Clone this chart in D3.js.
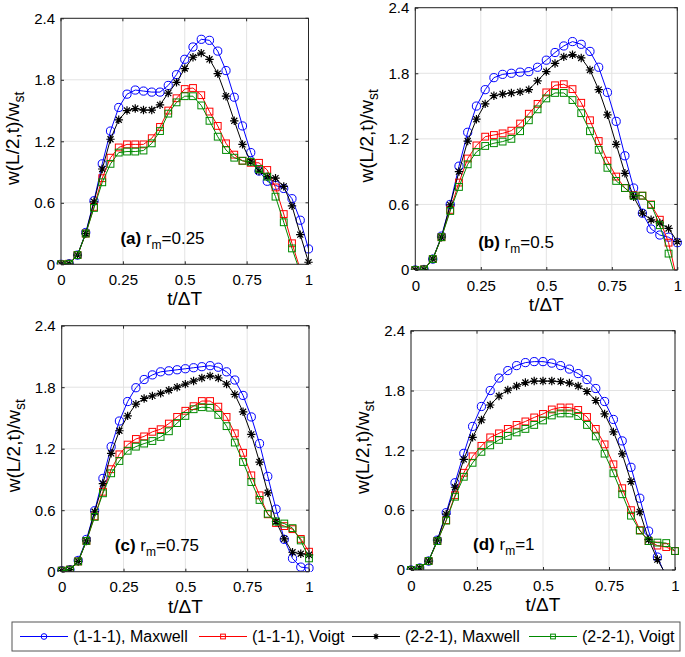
<!DOCTYPE html>
<html><head><meta charset="utf-8">
<script src="https://cdnjs.cloudflare.com/ajax/libs/d3/7.8.5/d3.min.js"></script>
<style>body{margin:0;background:#fff}svg{display:block}text{font-family:"Liberation Sans",Arial,Helvetica,sans-serif}</style>
</head><body><svg id="chart" width="685" height="657"></svg>
<script>
// ---- data ----
const tValues = [0,0.0333,0.0667,0.1,0.1333,0.1667,0.2,0.2333,0.2667,0.3,0.3333,0.3667,0.4,0.4333,0.4667,0.5,0.5333,0.5667,0.6,0.6333,0.6667,0.7,0.7333,0.7667,0.8,0.8333,0.8667,0.9,0.9333,0.9667,1];
const xTicks = [0,0.25,0.5,0.75,1];
const xTickLabels = ["0","0.25","0.5","0.75","1"];
const yTicks = [0,0.6,1.2,1.8,2.4];
const yTickLabels = ["0","0.6","1.2","1.8","2.4"];
const seriesNames = ["(1-1-1), Maxwell","(1-1-1), Voigt","(2-2-1), Maxwell","(2-2-1), Voigt"];
const panelTags = ["(a)","(b)","(c)","(d)"];
const rmValues = ["0.25","0.5","0.75","1"];

// panel (a) r_m = 0.25
const a_M111 = [0,0.005,0.09,0.31,0.62,0.98,1.30,1.53,1.66,1.70,1.69,1.68,1.68,1.745,1.85,2.0,2.12,2.195,2.185,2.08,1.89,1.63,1.35,1.09,0.91,0.81,0.77,0.74,0.64,0.43,0.15];
const a_V111 = [0,0.005,0.09,0.30,0.56,0.84,1.04,1.14,1.17,1.17,1.17,1.23,1.34,1.50,1.62,1.71,1.72,1.65,1.49,1.35,1.18,1.07,1.01,0.99,0.99,0.92,0.75,0.49,0.205,-0.05,-0.3];
const a_M221 = [0,0.005,0.09,0.30,0.61,0.93,1.22,1.41,1.50,1.52,1.505,1.505,1.555,1.67,1.775,1.91,2.02,2.06,2.0,1.86,1.64,1.40,1.17,1.0,0.91,0.855,0.84,0.76,0.57,0.29,0.02];
const a_V221 = [0,0.005,0.09,0.30,0.55,0.80,0.98,1.09,1.10,1.10,1.11,1.18,1.30,1.47,1.58,1.64,1.64,1.55,1.40,1.245,1.115,1.04,1.01,1.0,0.93,0.855,0.66,0.41,0.155,-0.08,-0.35];
// panel (b) r_m = 0.5
const b_M111 = [0,0.005,0.1,0.31,0.60,0.95,1.26,1.50,1.65,1.76,1.79,1.80,1.81,1.815,1.855,1.92,1.99,2.05,2.09,2.065,2.0,1.855,1.625,1.36,1.045,0.75,0.52,0.375,0.32,0.30,0.25];
const b_V111 = [0,0.005,0.1,0.30,0.55,0.80,1.02,1.14,1.22,1.235,1.25,1.275,1.34,1.43,1.52,1.625,1.69,1.70,1.655,1.53,1.37,1.18,1.0,0.855,0.75,0.685,0.68,0.60,0.46,0.25,-0.1];
const b_M221 = [0,0.005,0.1,0.30,0.595,0.90,1.18,1.38,1.52,1.595,1.61,1.62,1.63,1.65,1.73,1.815,1.89,1.95,1.97,1.94,1.83,1.65,1.42,1.15,0.885,0.67,0.52,0.46,0.43,0.38,0.26];
const b_V221 = [0,0.005,0.1,0.30,0.54,0.76,0.967,1.08,1.135,1.16,1.175,1.20,1.27,1.37,1.47,1.57,1.62,1.62,1.555,1.435,1.27,1.10,0.935,0.815,0.75,0.68,0.68,0.595,0.41,0.15,-0.13];
// panel (c) r_m = 0.75
const c_M111 = [0.01,0.02,0.11,0.315,0.595,0.91,1.22,1.47,1.66,1.795,1.875,1.92,1.95,1.96,1.97,1.98,1.99,2.0,2.01,1.995,1.95,1.87,1.72,1.51,1.25,0.93,0.61,0.315,0.13,0.045,0.035];
const c_V111 = [0.01,0.02,0.1,0.30,0.54,0.78,1.0,1.145,1.24,1.295,1.32,1.365,1.39,1.445,1.51,1.57,1.615,1.665,1.665,1.61,1.51,1.35,1.16,0.94,0.745,0.56,0.475,0.445,0.415,0.32,0.195];
const c_M221 = [0.01,0.02,0.1,0.30,0.585,0.86,1.155,1.375,1.52,1.635,1.69,1.715,1.74,1.77,1.80,1.83,1.86,1.89,1.91,1.89,1.83,1.73,1.56,1.34,1.07,0.77,0.49,0.32,0.19,0.175,0.165];
const c_V221 = [0.01,0.02,0.1,0.30,0.535,0.765,0.96,1.08,1.18,1.22,1.25,1.275,1.315,1.37,1.45,1.52,1.585,1.605,1.60,1.53,1.42,1.26,1.07,0.875,0.70,0.565,0.49,0.47,0.425,0.305,0.13];
// panel (d) r_m = 1
const d_M111 = [0,0.02,0.09,0.30,0.575,0.875,1.17,1.44,1.64,1.80,1.925,2.0,2.05,2.08,2.09,2.09,2.075,2.05,2.015,1.97,1.91,1.82,1.69,1.51,1.295,1.03,0.72,0.39,0.13,-0.07,-0.3];
const d_V111 = [0,0.02,0.09,0.29,0.50,0.75,0.975,1.14,1.245,1.33,1.37,1.415,1.455,1.49,1.53,1.565,1.61,1.63,1.63,1.605,1.535,1.415,1.26,1.06,0.82,0.60,0.40,0.29,0.245,0.23,0.19];
const d_M221 = [0,0.02,0.09,0.30,0.56,0.83,1.11,1.33,1.505,1.655,1.745,1.805,1.845,1.88,1.895,1.895,1.895,1.89,1.875,1.845,1.79,1.70,1.565,1.385,1.165,0.887,0.582,0.305,0.105,-0.05,-0.25];
const d_V221 = [0,0.02,0.09,0.29,0.495,0.735,0.935,1.075,1.185,1.25,1.305,1.345,1.38,1.415,1.455,1.50,1.55,1.57,1.57,1.545,1.455,1.34,1.167,0.97,0.76,0.545,0.395,0.29,0.275,0.27,0.19];

const panelData = [
  [a_M111,a_V111,a_M221,a_V221],
  [b_M111,b_V111,b_M221,b_V221],
  [c_M111,c_V111,c_M221,c_V221],
  [d_M111,d_V111,d_M221,d_V221]
];

// ---- layout / style ----
const layout = [
  {l:61,   r:308.5, t:18.3,  b:264.3, ann:[0.24,0.2]},
  {l:415.3,r:677.3, t:7.7,   b:270,   ann:[0.24,0.2]},
  {l:61.7, r:309,   t:325.7, b:571.7, ann:[0.215,0.2]},
  {l:411,  r:675,   t:330.7, b:570,   ann:[0.235,0.2]}
];
const colors = ["#0000ff","#ff0000","#000000","#008a00"];
const markers = ["circle","square","star","square"];
const axisColor = "#262626";
const gridColor = "#e3e3e3";

const svg = d3.select("#chart");
const defs = svg.append("defs");

function drawMarker(g, type, color, x, y, s) {
  if (type === "circle") {
    g.append("circle").attr("cx",x).attr("cy",y).attr("r",4.1*s)
      .attr("fill","none").attr("stroke",color).attr("stroke-width",1);
  } else if (type === "square") {
    const h = 3.4*s;
    g.append("rect").attr("x",x-h).attr("y",y-h).attr("width",2*h).attr("height",2*h)
      .attr("fill","none").attr("stroke",color).attr("stroke-width",1);
  } else {
    const h = 4.2*s, d = h*0.72;
    const p = `M${x-h},${y}L${x+h},${y}M${x},${y-h}L${x},${y+h}M${x-d},${y-d}L${x+d},${y+d}M${x-d},${y+d}L${x+d},${y-d}`;
    g.append("path").attr("d",p).attr("stroke",color).attr("stroke-width",1.2).attr("fill","none");
  }
}

layout.forEach((L, pi) => {
  const x = d3.scaleLinear().domain([0,1]).range([L.l, L.r]);
  const y = d3.scaleLinear().domain([0,2.4]).range([L.b, L.t]);
  const g = svg.append("g");
  const clipId = "clip"+pi;
  defs.append("clipPath").attr("id",clipId).append("rect")
    .attr("x",L.l-6).attr("y",L.t-6).attr("width",L.r-L.l+12).attr("height",L.b-L.t+6);
  const clipLine = "clipl"+pi;
  defs.append("clipPath").attr("id",clipLine).append("rect")
    .attr("x",L.l).attr("y",L.t).attr("width",L.r-L.l).attr("height",L.b-L.t);

  // grid
  xTicks.forEach(v => g.append("line").attr("x1",x(v)).attr("x2",x(v)).attr("y1",L.t).attr("y2",L.b)
    .attr("stroke",gridColor).attr("stroke-width",1));
  yTicks.forEach(v => g.append("line").attr("x1",L.l).attr("x2",L.r).attr("y1",y(v)).attr("y2",y(v))
    .attr("stroke",gridColor).attr("stroke-width",1));

  // axes with d3 axis generators (ticks inward)
  const xAxis = d3.axisBottom(x).tickValues(xTicks).tickFormat((d,i)=>xTickLabels[i]).tickSizeInner(-3).tickSizeOuter(0).tickPadding(10);
  const yAxis = d3.axisLeft(y).tickValues(yTicks).tickFormat((d,i)=>yTickLabels[i]).tickSizeInner(-3).tickSizeOuter(0).tickPadding(6);
  const gx = g.append("g").attr("transform",`translate(0,${L.b})`).call(xAxis);
  const gy = g.append("g").attr("transform",`translate(${L.l},0)`).call(yAxis);
  [gx,gy].forEach(a => {
    a.select(".domain").remove();
    a.selectAll(".tick line").attr("stroke",axisColor);
    a.selectAll(".tick text").attr("fill","#000").attr("font-size",15)
      .attr("font-family","Liberation Sans, Arial, sans-serif");
  });
  gx.selectAll(".tick text").attr("dy","0.71em");
  // mirrored ticks top/right
  xTicks.forEach(v => g.append("line").attr("x1",x(v)).attr("x2",x(v)).attr("y1",L.t).attr("y2",L.t+3).attr("stroke",axisColor));
  yTicks.forEach(v => g.append("line").attr("x1",L.r).attr("x2",L.r-3).attr("y1",y(v)).attr("y2",y(v)).attr("stroke",axisColor));

  // series
  const series = panelData[pi];
  series.forEach((vals, si) => {
    const pts = vals.map((v,i)=>[tValues[i], v]);
    const line = d3.line().x(d=>x(d[0])).y(d=>y(d[1]));
    g.append("path").attr("d",line(pts)).attr("fill","none").attr("stroke",colors[si])
      .attr("stroke-width",1).attr("clip-path",`url(#${clipLine})`);
    const mg = g.append("g").attr("clip-path",`url(#${clipId})`);
    pts.forEach(p => { if (p[1] >= -0.02) drawMarker(mg, markers[si], colors[si], x(p[0]), y(p[1]), 1); });
  });

  // box
  g.append("rect").attr("x",L.l).attr("y",L.t).attr("width",L.r-L.l).attr("height",L.b-L.t)
    .attr("fill","none").attr("stroke",axisColor).attr("stroke-width",1);

  // labels
  g.append("text").attr("x",(L.l+L.r)/2).attr("y",L.b+41).attr("text-anchor","middle")
    .attr("font-size",19).text("t/\u0394T");
  const yl = g.append("text").attr("transform",`translate(${L.l-42},${(L.t+L.b)/2-3}) rotate(-90)`)
    .attr("text-anchor","middle").attr("font-size",19);
  yl.append("tspan").text("w(L/2,t)/w");
  yl.append("tspan").attr("font-size",14).attr("dy",5).text("st");

  // annotation
  const an = g.append("text").attr("x",x(L.ann[0])).attr("y",y(L.ann[1])).attr("font-size",17);
  an.append("tspan").attr("font-weight","bold").text(panelTags[pi]);
  an.append("tspan").text(" r");
  an.append("tspan").attr("font-size",12).attr("dy",5).text("m");
  an.append("tspan").attr("dy",-5).text("="+rmValues[pi]);
});

// legend
const lg = svg.append("g");
lg.append("rect").attr("x",12).attr("y",622).attr("width",668).attr("height",29)
  .attr("fill","#fff").attr("stroke","#555").attr("stroke-width",1);
const legendX = [20,199,352,529];
seriesNames.forEach((name, i) => {
  const x0 = legendX[i], yc = 636.5;
  lg.append("line").attr("x1",x0).attr("x2",x0+48).attr("y1",yc).attr("y2",yc).attr("stroke",colors[i]).attr("stroke-width",1);
  drawMarker(lg, markers[i], colors[i], x0+24, yc, 0.7);
  lg.append("text").attr("x",x0+53).attr("y",yc).attr("dy","0.35em").attr("font-size",16).text(name);
});
</script></body></html>
